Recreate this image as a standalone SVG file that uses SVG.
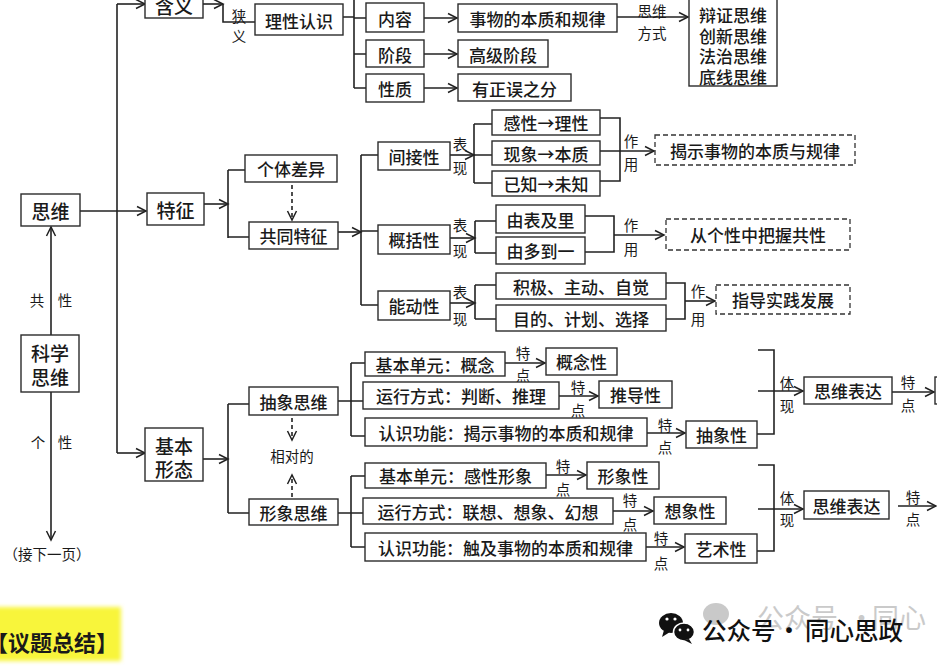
<svg xmlns="http://www.w3.org/2000/svg" width="937" height="666" viewBox="0 0 937 666">
<defs>
<style>
.b{fill:#fff;stroke:#2b2b2b;stroke-width:1.4}
.d{fill:#fff;stroke:#333;stroke-width:1.3;stroke-dasharray:5 3}
.t{font-family:"Noto Sans CJK SC","Noto Sans",sans-serif;font-size:17px;font-weight:500;fill:#1a1a1a;text-anchor:middle;dominant-baseline:central}
.L{font-size:19px}
.s{font-size:14.5px;font-weight:400}
.c{fill:none;stroke:#222;stroke-width:1.6}
.a{marker-end:url(#ah)}
.dl{stroke-dasharray:4 3}
</style>
<marker id="ah" markerWidth="12" markerHeight="12" refX="10" refY="6" orient="auto" markerUnits="userSpaceOnUse">
<path d="M1,1.5 L10,6 L1,10.5" fill="none" stroke="#222" stroke-width="1.5"/>
</marker>
<filter id="glow" x="-20%" y="-20%" width="140%" height="140%"><feGaussianBlur stdDeviation="2"/></filter>
</defs>
<rect x="0" y="0" width="937" height="666" fill="#fff"/>

<g id="connectors">
<path class="c" d="M117,4 V453"/>
<path class="c a" d="M117,4 H145"/>
<path class="c a" d="M80,211 H146"/>
<path class="c a" d="M117,453 H145"/>
<path class="c a" d="M203,4 H223"/>
<path class="c" d="M223,4 V22 H255"/>
<path class="c" d="M343,17 H354 M354,0 V88 M354,18 H366 M354,54 H366 M354,88 H366"/>
<path class="c a" d="M424,18 H457"/>
<path class="c a" d="M424,54 H457"/>
<path class="c a" d="M424,88 H457"/>
<path class="c a" d="M617,17 H688"/>
<path class="c a" d="M204,204 H228"/>
<path class="c" d="M228,170 V238 M228,170 H245 M228,237 H249"/>
<path class="c a dl" d="M292,185 V220"/>
<path class="c a" d="M338,232 H361"/>
<path class="c" d="M361,155 V305 M361,155 H378 M361,231 H378 M361,305 H378"/>
<path class="c a" d="M450,155 H474"/>
<path class="c a" d="M450,238 H475"/>
<path class="c a" d="M450,303 H475"/>
<path class="c" d="M474,124 V183 M474,124 H492 M474,155 H492 M474,183 H492"/>
<path class="c" d="M475,221 V253 M475,221 H496 M475,253 H496"/>
<path class="c" d="M475,285 V319 M475,285 H496 M475,319 H496"/>
<path class="c" d="M600,118 H620 V181 H600"/>
<path class="c a" d="M600,151 H654"/>
<path class="c" d="M585,216 H614 V252 H585"/>
<path class="c a" d="M614,235 H664"/>
<path class="c" d="M666,283 H685 V319 H666"/>
<path class="c a" d="M685,301 H715"/>
<path class="c a" d="M203,459 H228"/>
<path class="c" d="M228,404 V513 M228,404 H249 M228,513 H249"/>
<path class="c a dl" d="M292,418 V440"/>
<path class="c a dl" d="M292,497 V475"/>
<path class="c" d="M338,401 H363 M351,363 V436 M351,363 H365 M351,436 H365"/>
<path class="c a" d="M505,363 H545"/>
<path class="c a" d="M559,396 H598"/>
<path class="c a" d="M647,433 H685"/>
<path class="c" d="M758,350 H774 V434 H757"/>
<path class="c a" d="M758,391 H803"/>
<path class="c a" d="M892,392 H934"/>
<path class="c" d="M338,513 H363 M351,476 V547 M351,476 H365 M351,547 H365"/>
<path class="c a" d="M546,475 H586"/>
<path class="c a" d="M613,511 H653"/>
<path class="c a" d="M646,547 H684"/>
<path class="c" d="M758,465 H774 V551 H757"/>
<path class="c a" d="M758,509 H803"/>
<path class="c a" d="M898,506 H936"/>
<path class="c a" d="M51,335 V227"/>
<path class="c a" d="M51,392 V540"/>
</g>

<g id="labels">
<text class="t s" x="239" y="15">狭</text><text class="t s" x="239" y="35">义</text>
<text class="t s" x="652" y="10">思维</text><text class="t s" x="652" y="32">方式</text>
<text class="t s" x="460" y="143">表</text><text class="t s" x="460" y="167">现</text>
<text class="t s" x="460" y="224">表</text><text class="t s" x="460" y="250">现</text>
<text class="t s" x="460" y="291">表</text><text class="t s" x="460" y="318">现</text>
<text class="t s" x="631" y="140">作</text><text class="t s" x="631" y="163">用</text>
<text class="t s" x="631" y="224">作</text><text class="t s" x="631" y="248">用</text>
<text class="t s" x="698" y="290">作</text><text class="t s" x="698" y="318">用</text>
<text class="t s" x="37" y="299">共</text><text class="t s" x="65" y="299">性</text>
<text class="t s" x="38" y="441">个</text><text class="t s" x="65" y="441">性</text>
<text class="t s" x="47" y="553">（接下一页）</text>
<text class="t s" x="292" y="455">相对的</text>
<text class="t s" x="523" y="352">特</text><text class="t s" x="523" y="374">点</text>
<text class="t s" x="578" y="386">特</text><text class="t s" x="578" y="409">点</text>
<text class="t s" x="665" y="424">特</text><text class="t s" x="665" y="446">点</text>
<text class="t s" x="908" y="381">特</text><text class="t s" x="908" y="404">点</text>
<text class="t s" x="563" y="465">特</text><text class="t s" x="563" y="488">点</text>
<text class="t s" x="630" y="499">特</text><text class="t s" x="630" y="523">点</text>
<text class="t s" x="661" y="537">特</text><text class="t s" x="661" y="562">点</text>
<text class="t s" x="913" y="496">特</text><text class="t s" x="913" y="518">点</text>
<text class="t s" x="787" y="382">体</text><text class="t s" x="787" y="405">现</text>
<text class="t s" x="787" y="497">体</text><text class="t s" x="787" y="519">现</text>
</g>

<g id="n-hanyi"><rect class="b" x="145" y="-10" width="58" height="28"/><text class="t L" x="174" y="5">含义</text></g>
<g id="n-lixing"><rect class="b" x="255" y="4" width="88" height="31"/><text class="t" x="299" y="20">理性认识</text></g>
<g id="n-neirong"><rect class="b" x="366" y="3" width="58" height="29"/><text class="t" x="395" y="18">内容</text></g>
<g id="n-jieduan"><rect class="b" x="366" y="40" width="58" height="27"/><text class="t" x="395" y="54">阶段</text></g>
<g id="n-xingzhi"><rect class="b" x="366" y="74" width="58" height="28"/><text class="t" x="395" y="88">性质</text></g>
<g id="n-benzhi"><rect class="b" x="458" y="4" width="159" height="28"/><text class="t" x="537.5" y="18">事物的本质和规律</text></g>
<g id="n-gaoji"><rect class="b" x="458" y="40" width="90" height="27"/><text class="t" x="503" y="54">高级阶段</text></g>
<g id="n-zhengwu"><rect class="b" x="458" y="74" width="113" height="27"/><text class="t" x="514.5" y="88">有正误之分</text></g>
<g id="n-fangshi"><rect class="b" x="689" y="-10" width="88" height="96"/>
<text class="t" x="733" y="14">辩证思维</text><text class="t" x="733" y="35">创新思维</text><text class="t" x="733" y="55">法治思维</text><text class="t" x="733" y="76">底线思维</text></g>

<g id="n-siwei"><rect class="b" x="21" y="194" width="59" height="32"/><text class="t L" x="50.5" y="210">思维</text></g>
<g id="n-kexue"><rect class="b" x="21" y="335" width="58" height="57"/><text class="t L" x="50" y="352">科学</text><text class="t L" x="50" y="376">思维</text></g>
<g id="n-tezheng"><rect class="b" x="147" y="193" width="57" height="32"/><text class="t L" x="175.5" y="209">特征</text></g>
<g id="n-geti"><rect class="b" x="245" y="155" width="92" height="27"/><text class="t" x="291" y="168.5">个体差异</text></g>
<g id="n-gongtong"><rect class="b" x="249" y="222" width="89" height="27"/><text class="t" x="293.5" y="235.5">共同特征</text></g>
<g id="n-jianjie"><rect class="b" x="378" y="142" width="72" height="28"/><text class="t" x="414" y="156">间接性</text></g>
<g id="n-gaikuo"><rect class="b" x="378" y="225" width="72" height="29"/><text class="t" x="414" y="239.5">概括性</text></g>
<g id="n-nengdong"><rect class="b" x="378" y="291" width="72" height="29"/><text class="t" x="414" y="305.5">能动性</text></g>
<g id="n-ganxing"><rect class="b" x="492" y="110" width="108" height="25"/><text class="t" x="546" y="122.5">感性→理性</text></g>
<g id="n-xianxiang"><rect class="b" x="492" y="141" width="108" height="24"/><text class="t" x="546" y="153">现象→本质</text></g>
<g id="n-yizhi"><rect class="b" x="492" y="171" width="108" height="25"/><text class="t" x="546" y="183.5">已知→未知</text></g>
<g id="n-jieshi"><rect class="d" x="655" y="135" width="200" height="30"/><text class="t" x="755" y="150">揭示事物的本质与规律</text></g>
<g id="n-youbiao"><rect class="b" x="496" y="205" width="89" height="28"/><text class="t" x="540.5" y="219">由表及里</text></g>
<g id="n-youduo"><rect class="b" x="496" y="237" width="89" height="27"/><text class="t" x="540.5" y="250.5">由多到一</text></g>
<g id="n-congge"><rect class="d" x="666" y="219" width="184" height="31"/><text class="t" x="758" y="234.5">从个性中把握共性</text></g>
<g id="n-jiji"><rect class="b" x="496" y="273" width="170" height="26"/><text class="t" x="581" y="286">积极、主动、自觉</text></g>
<g id="n-mudi"><rect class="b" x="496" y="305" width="170" height="26"/><text class="t" x="581" y="318">目的、计划、选择</text></g>
<g id="n-zhidao"><rect class="d" x="716" y="285" width="134" height="29"/><text class="t" x="783" y="299.5">指导实践发展</text></g>

<g id="n-jiben"><rect class="b" x="145" y="428" width="58" height="53"/><text class="t L" x="174" y="445">基本</text><text class="t L" x="174" y="468">形态</text></g>
<g id="n-chouxiang"><rect class="b" x="249" y="387" width="89" height="28"/><text class="t" x="293.5" y="401">抽象思维</text></g>
<g id="n-xingxiang"><rect class="b" x="249" y="499" width="89" height="26"/><text class="t" x="293.5" y="512">形象思维</text></g>
<g id="n-cx1"><rect class="b" x="365" y="352" width="140" height="24"/><text class="t" x="435" y="364">基本单元：概念</text></g>
<g id="n-cx2"><rect class="b" x="363" y="382" width="196" height="27"/><text class="t" x="461" y="395.5">运行方式：判断、推理</text></g>
<g id="n-cx3"><rect class="b" x="365" y="418" width="282" height="28"/><text class="t" x="506" y="432">认识功能：揭示事物的本质和规律</text></g>
<g id="n-gainian"><rect class="b" x="546" y="348" width="71" height="27"/><text class="t" x="581.5" y="361.5">概念性</text></g>
<g id="n-tuidao"><rect class="b" x="599" y="381" width="73" height="27"/><text class="t" x="635.5" y="394.5">推导性</text></g>
<g id="n-chouxiangxing"><rect class="b" x="686" y="421" width="71" height="27"/><text class="t" x="721.5" y="434.5">抽象性</text></g>
<g id="n-biaoda1"><rect class="b" x="804" y="377" width="88" height="27"/><text class="t" x="848" y="390.5">思维表达</text></g>
<g id="n-cut1"><rect class="b" x="935" y="377" width="30" height="27"/></g>
<g id="n-xx1"><rect class="b" x="365" y="463" width="181" height="25"/><text class="t" x="455.5" y="475.5">基本单元：感性形象</text></g>
<g id="n-xx2"><rect class="b" x="363" y="498" width="250" height="26"/><text class="t" x="488" y="511">运行方式：联想、想象、幻想</text></g>
<g id="n-xx3"><rect class="b" x="365" y="533" width="281" height="28"/><text class="t" x="505.5" y="547">认识功能：触及事物的本质和规律</text></g>
<g id="n-xingxiangxing"><rect class="b" x="587" y="462" width="72" height="27"/><text class="t" x="623" y="475.5">形象性</text></g>
<g id="n-xiangxiang"><rect class="b" x="654" y="497" width="72" height="27"/><text class="t" x="690" y="510.5">想象性</text></g>
<g id="n-yishu"><rect class="b" x="685" y="534" width="72" height="29"/><text class="t" x="721" y="548.5">艺术性</text></g>
<g id="n-biaoda2"><rect class="b" x="804" y="491" width="85" height="28"/><text class="t" x="846.5" y="505">思维表达</text></g>

<g id="summary">
<rect x="-6" y="607" width="127" height="54" fill="#f8f53a" filter="url(#glow)"/>
<text x="-14" y="641" style="font-family:'Noto Sans CJK SC',sans-serif;font-size:22px;font-weight:700;fill:#1a1a1a;dominant-baseline:central">【议题总结】</text>
</g>

<g id="watermark">
<ellipse cx="716" cy="614" rx="13" ry="11" fill="#c9c9c9"/>
<text style="font-family:'Noto Sans CJK SC',sans-serif;font-size:27px;fill:#cacaca;dominant-baseline:central" y="616"><tspan x="757">公众号</tspan><tspan x="848">·</tspan><tspan x="872">同心</tspan></text>
<ellipse cx="671" cy="623" rx="12" ry="10" fill="#111"/>
<path d="M664,630 L662,637 L670,632 Z" fill="#111"/>
<ellipse cx="684" cy="632" rx="10.5" ry="9" fill="#111" stroke="#fff" stroke-width="1.5"/>
<path d="M689,639 L692,644 L684,640 Z" fill="#111"/>
<circle cx="667" cy="619" r="1.6" fill="#fff"/><circle cx="675" cy="619" r="1.6" fill="#fff"/>
<circle cx="680" cy="630" r="1.4" fill="#fff"/><circle cx="688" cy="630" r="1.4" fill="#fff"/>
<text style="font-family:'Noto Sans CJK SC',sans-serif;font-size:24.5px;font-weight:500;fill:#111;dominant-baseline:central" y="629"><tspan x="702">公众号</tspan><tspan x="789" text-anchor="middle">·</tspan><tspan x="805">同心思政</tspan></text>
</g>
</svg>
